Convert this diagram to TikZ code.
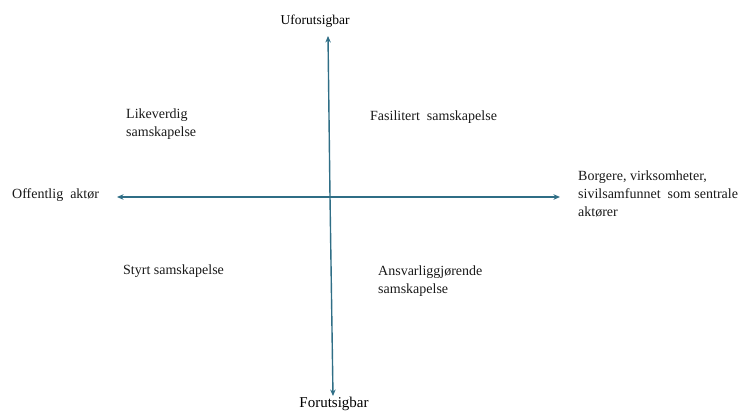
\documentclass[tikz,border=0pt]{standalone}
\usepackage{fontspec}
\setmainfont{Liberation Serif}
\usetikzlibrary{arrows.meta}
\definecolor{axisblue}{HTML}{2F6E86}
\begin{document}
\begin{tikzpicture}[x=1pt,y=-1pt,
  lbl/.style={inner sep=0pt,anchor=west,align=left,text=black!90,font=\fontsize{14}{18}\selectfont},
  axis/.style={draw=axisblue,line width=1.4pt,arrows={-{Stealth[length=6.5pt,width=5.5pt]}}}]
\useasboundingbox (0,0) rectangle (738,412);
% axis end points
\coordinate (aL) at (117,197);
\coordinate (aR) at (560,197);
\coordinate (aT) at (328,36);
\coordinate (aB) at (333,396);
\coordinate (aC) at (330,197);
\draw[axis] (aC) -- (aL);
\draw[axis] (aC) -- (aR);
\draw[axis] (aC) -- (aT);
\draw[axis] (aC) -- (aB);
% axis labels
\node[inner sep=0pt,font=\fontsize{13.5}{16}\selectfont] (top) at (315,21) {Uforutsigbar};
\node[inner sep=0pt,font=\fontsize{15}{18}\selectfont] (bot) at (334,404) {Forutsigbar};
\node[lbl] (left) at (12,195) {Offentlig\ \ aktør};
\node[lbl] (right) at (578,194) {Borgere, virksomheter,\\sivilsamfunnet\ \ som sentrale\\aktører};
% quadrant labels
\node[lbl] (q1) at (126,124) {Likeverdig\\samskapelse};
\node[lbl] (q2) at (370,117) {Fasilitert\ \ samskapelse};
\node[lbl] (q3) at (123,271) {Styrt samskapelse};
\node[lbl] (q4) at (378,281) {Ansvarliggjørende\\samskapelse};
\end{tikzpicture}
\end{document}
